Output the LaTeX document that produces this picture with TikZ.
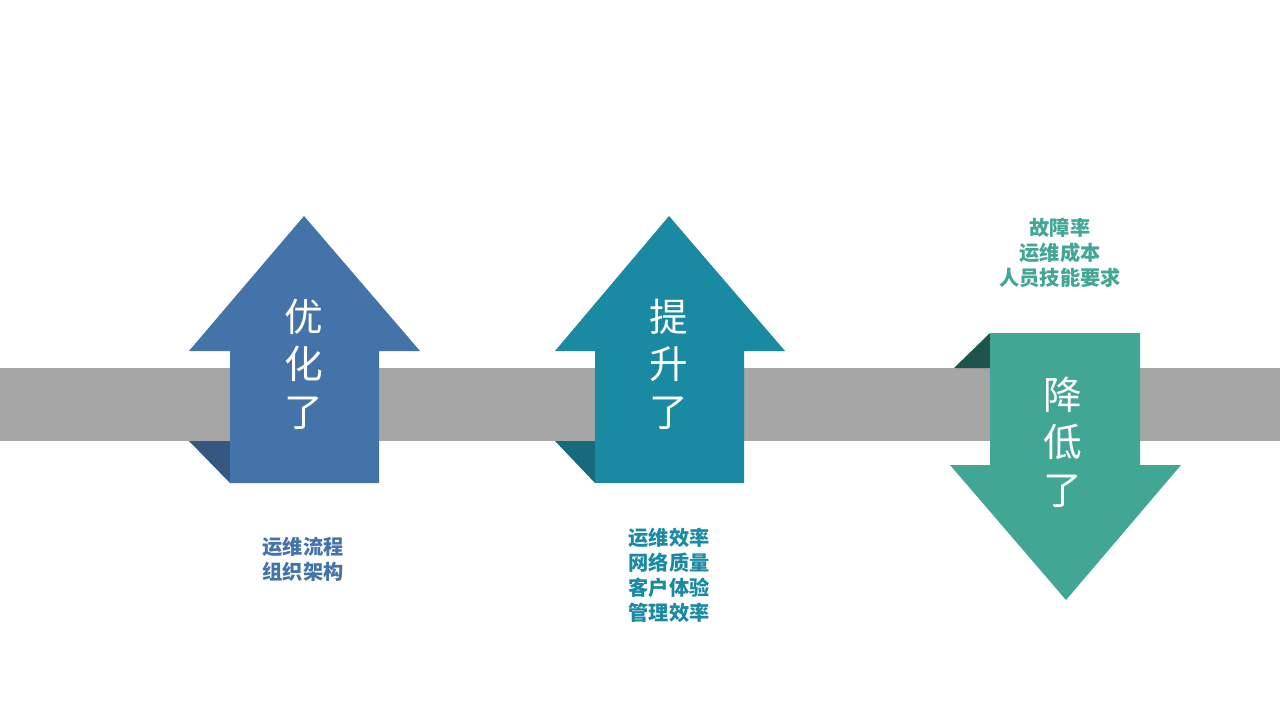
\documentclass[tikz,border=0pt]{standalone}
\usepackage{fontspec}
\newfontfamily\cjk{Noto Sans CJK SC}
\definecolor{bandgray}{HTML}{A6A6A6}
\definecolor{blueA}{HTML}{4373A9}
\definecolor{blueAd}{HTML}{34587F}
\definecolor{tealB}{HTML}{1A8AA3}
\definecolor{tealBd}{HTML}{156A7E}
\definecolor{greenC}{HTML}{41A693}
\definecolor{greenCd}{HTML}{1E5449}
\begin{document}
\begin{tikzpicture}[x=0.02cm,y=-0.02cm,bigtext/.style={text=white,font=\cjk\fontsize{22}{27}\selectfont,align=center},
labelA/.style={font=\cjk\bfseries\fontsize{11.5}{14.2}\selectfont,align=center}]
\useasboundingbox (0,0) rectangle (1280,720);
\fill[white] (0,0) rectangle (1280,720);

% band
\fill[bandgray] (0,368) rectangle (1280,441);

% arrow one
\fill[blueAd] (189,441) -- (230,441) -- (230,483) -- cycle;
\fill[blueA] (304,216) -- (420,351) -- (379,351) -- (379,483) -- (230,483) -- (230,351) -- (189,351) -- cycle;
\node[bigtext] (txtA) at (304,364) {优\\化\\了};
\node[labelA,text=blueA] (lblA) at (303,559) {运维流程\\组织架构};

% arrow two
\fill[tealBd] (555,441) -- (595,441) -- (595,483) -- cycle;
\fill[tealB] (669,216) -- (785,351) -- (744,351) -- (744,483) -- (595,483) -- (595,351) -- (555,351) -- cycle;
\node[bigtext] (txtB) at (669,364) {提\\升\\了};
\node[labelA,text=tealB] (lblB) at (669,575) {运维效率\\网络质量\\客户体验\\管理效率};

% arrow three
\fill[greenCd] (954,368) -- (990,333) -- (990,368) -- cycle;
\fill[greenC] (990,333) -- (1140,333) -- (1140,465) -- (1181,465) -- (1066,600) -- (950,465) -- (990,465) -- cycle;
\node[bigtext] (txtC) at (1063,442) {降\\低\\了};
\node[labelA,text=greenC] (lblC) at (1060,253) {故障率\\运维成本\\人员技能要求};
\end{tikzpicture}
\end{document}
